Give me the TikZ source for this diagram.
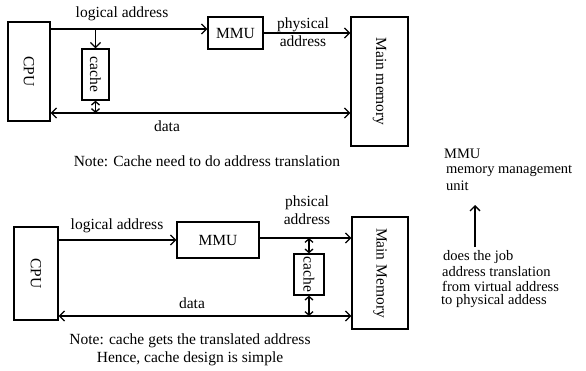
\documentclass[tikz,border=0pt]{standalone}
\usepackage{fontspec}
\setmainfont{Liberation Serif}
\usepackage{graphicx}
\usetikzlibrary{arrows.meta}
\begin{document}
\begin{tikzpicture}[x=1pt,y=-1pt,
  every node/.style={font=\fontsize{15.5}{18}\selectfont, inner sep=0pt},
  box/.style={draw, line width=1.3pt},
  lbl/.style={align=center},
  side/.style={anchor=west, font=\fontsize{14.5}{16}\selectfont},
  arr/.style={line width=1.3pt, -{Straight Barb[length=5pt,width=10pt]}},
  darr/.style={line width=1.3pt, {Straight Barb[length=5pt,width=10pt]}-{Straight Barb[length=5pt,width=10pt]}},
  sdarr/.style={line width=1.3pt, {Straight Barb[length=3.5pt,width=8pt]}-{Straight Barb[length=3.5pt,width=8pt]}}]
\useasboundingbox (0,0) rectangle (586,370);

% ---------- top diagram ----------
\node[box, minimum width=42, minimum height=99] (cpu1) at (29,71.5) {\rotatebox{-90}{CPU}};
\node[box, minimum width=55, minimum height=32] (mmu1) at (235.5,33) {MMU};
\node[box, minimum width=57, minimum height=129] (mm1) at (379.5,81.5) {\rotatebox{-90}{Main memory}};
\node[box, minimum width=27, minimum height=51] (cache1) at (95.5,74.5) {\rotatebox{-90}{cache}};

\draw[arr] (cpu1.east |- 0,29) -- (mmu1.west |- 0,29);
\draw[arr] (cache1.north |- 0,29) -- (cache1.north);
\draw[arr] (mmu1.east) -- (mm1.west |- mmu1.east);
\draw[darr] (cpu1.east |- 0,113) -- (mm1.west |- 0,113);
\draw[sdarr] (cache1.south) -- (cache1.south |- 0,113);

\node (la1) at (122,14) {logical address};
\node[lbl] (pa1) at (303,32) {physical\\address};
\node (d1) at (167,126) {data};
\node (n1) at (207,161) {Note: Cache need to do address translation};

% ---------- bottom diagram ----------
\node[box, minimum width=44, minimum height=93] (cpu2) at (36,273.5) {\rotatebox{-90}{CPU}};
\node[box, minimum width=82, minimum height=36] (mmu2) at (218,240) {MMU};
\node[box, minimum width=56, minimum height=112] (mm2) at (380,273) {\rotatebox{-90}{Main Memory}};
\node[box, minimum width=30, minimum height=41] (cache2) at (309,274.5) {\rotatebox{-90}{cache}};

\draw[arr] (cpu2.east |- mmu2.west) -- (mmu2.west);
\draw[arr] (mmu2.east |- 0,238) -- (mm2.west |- 0,238);
\draw[sdarr] (cache2.north |- 0,238) -- (cache2.north);
\draw[sdarr] (cache2.south) -- (cache2.south |- 0,316);
\draw[darr] (cpu2.east |- 0,316) -- (mm2.west |- 0,316);

\node (la2) at (117,226) {logical address};
\node[lbl] (pa2) at (307,210.5) {phsical\\address};
\node (d2) at (192,303) {data};
\node[lbl] (n2) at (190,350) {Note: cache gets the translated address\\Hence, cache design is simple};

% ---------- side notes ----------
\node[side] (s1) at (444,154) {MMU};
\node[side] (s2) at (446,171) {memory management};
\node[side] (s3) at (446,185.5) {unit};
\coordinate (a1) at (475,247);
\coordinate (a2) at (475,205);
\draw[arr] (a1) -- (a2);
\node[side] (s4) at (443,257) {does the job};
\node[side] (s5) at (442,272) {address translation};
\node[side] (s6) at (442,286) {from virtual address};
\node[side] (s7) at (441,301) {to physical addess};
\end{tikzpicture}
\end{document}
